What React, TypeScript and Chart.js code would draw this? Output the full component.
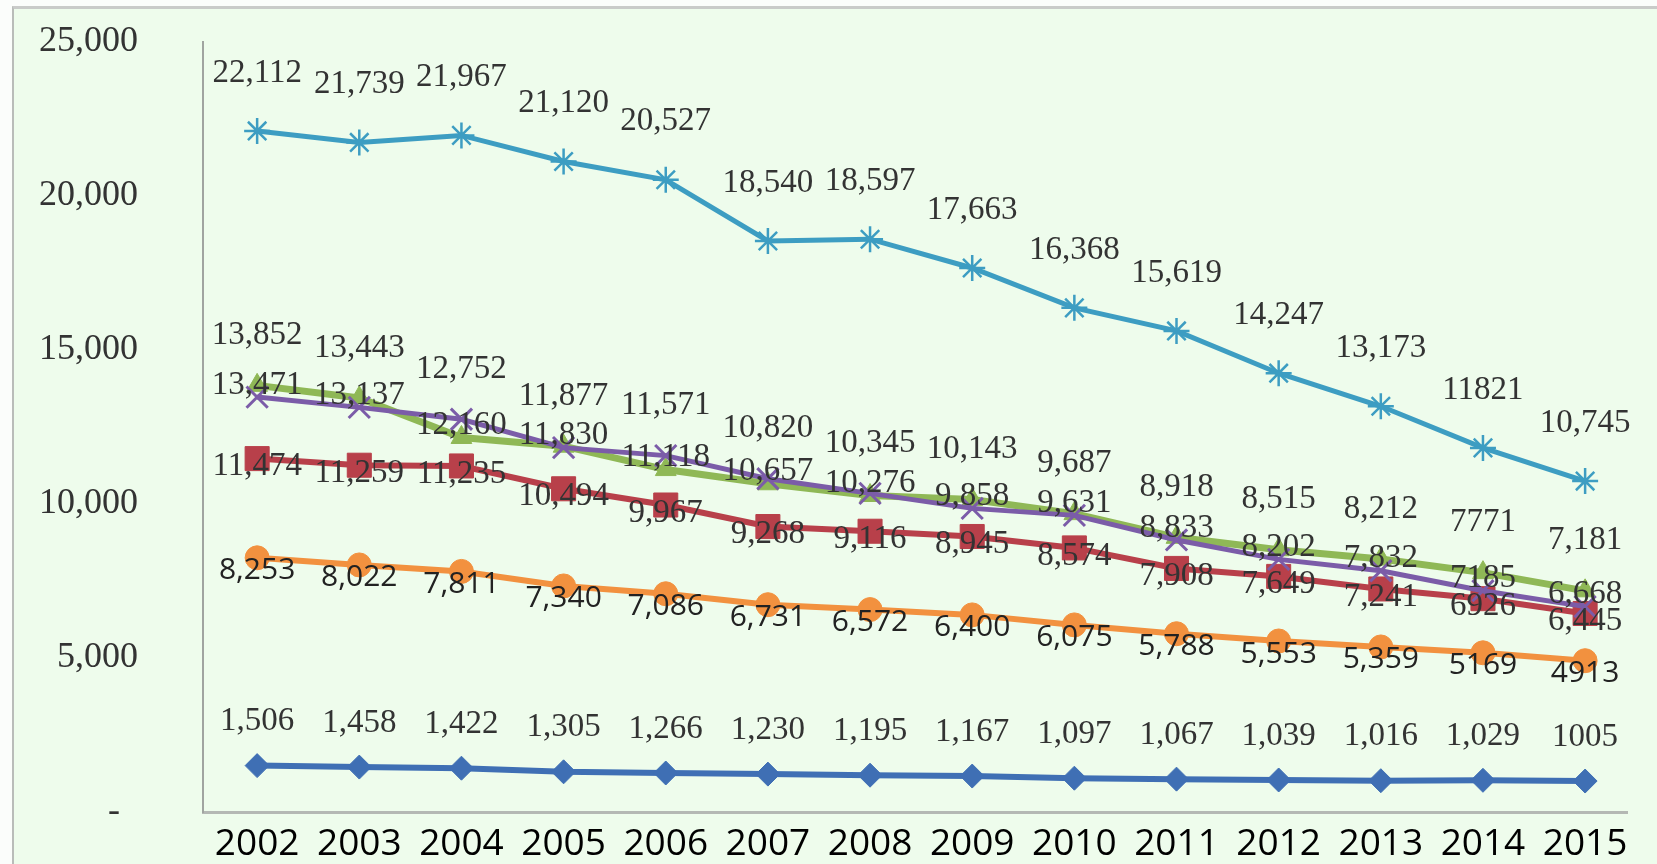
import React, { useEffect, useRef } from 'react';
import { Chart, registerables } from 'chart.js';

Chart.register(...registerables);

const years = [2002, 2003, 2004, 2005, 2006, 2007, 2008, 2009, 2010, 2011, 2012, 2013, 2014, 2015];
const tealValues = [22112, 21739, 21967, 21120, 20527, 18540, 18597, 17663, 16368, 15619, 14247, 13173, 11821, 10745];
const greenValues = [13852, 13443, 12160, 11877, 11118, 10657, 10276, 10143, 9687, 8918, 8515, 8212, 7771, 7181];
const purpleValues = [13471, 13137, 12752, 11830, 11571, 10820, 10345, 9858, 9631, 8833, 8202, 7832, 7185, 6668];
const redValues = [11474, 11259, 11235, 10494, 9967, 9268, 9116, 8945, 8574, 7908, 7649, 7241, 6926, 6445];
const orangeValues = [8253, 8022, 7811, 7340, 7086, 6731, 6572, 6400, 6075, 5788, 5553, 5359, 5169, 4913];
const blueValues = [1506, 1458, 1422, 1305, 1266, 1230, 1195, 1167, 1097, 1067, 1039, 1016, 1029, 1005];

// indices whose labels were printed without a thousands separator
const tealPlain = [12];
const greenPlain = [12];
const purplePlain = [12];
const redPlain = [12];
const orangePlain = [12, 13];
const bluePlain = [13];

const yTicks = [0, 5000, 10000, 15000, 20000, 25000];
const yTickLabels = ['-  ', '5,000', '10,000', '15,000', '20,000', '25,000'];

const W = 1657;
const H = 864;

const fmt = (v: number, plain: boolean) => (plain ? String(v) : v.toLocaleString('en-US'));

const SERIF_LABEL = '33px "Liberation Serif", "Times New Roman", serif';
const SANS_LABEL = '30px "Open Sans", "Noto Sans", sans-serif';

const labelPlugin = {
  id: 'pointLabels',
  afterDatasetsDraw(chart: any) {
    const ctx = chart.ctx;
    ctx.save();
    ctx.textAlign = 'center';
    ctx.textBaseline = 'middle';
    chart.data.datasets.forEach((ds: any, di: number) => {
      const meta = chart.getDatasetMeta(di);
      const lc = ds.labelCfg;
      if (!lc) return;
      meta.data.forEach((pt: any, i: number) => {
        const v = lc.values[i];
        let dy = lc.dy;
        if (lc.pair) {
          dy = v >= lc.pair[i] ? lc.dyHigh : lc.dyLow;
        }
        ctx.font = lc.font;
        ctx.fillStyle = lc.color;
        ctx.fillText(fmt(v, lc.plain.includes(i)), pt.x, pt.y + dy);
      });
    });
    ctx.restore();
  },
};

export default function App() {
  const ref = useRef<HTMLCanvasElement | null>(null);

  useEffect(() => {
    if (!ref.current) return;
    const mk = (data: number[]) => data.map((v, i) => ({ x: years[i], y: v }));
    const chart = new Chart(ref.current, {
      type: 'line',
      data: {
        datasets: [
          {
            data: mk(tealValues) as any,
            borderColor: '#3d9dc2',
            backgroundColor: '#3d9dc2',
            borderWidth: 5,
            pointStyle: 'star',
            pointRadius: 13,
            pointBorderWidth: 2.5,
            pointBorderColor: '#3d9dc2',
            order: 2,
            labelCfg: { font: SERIF_LABEL, color: '#333', dy: -58, plain: tealPlain, values: tealValues },
          } as any,
          {
            data: mk(greenValues) as any,
            borderColor: '#8fb856',
            backgroundColor: '#8fb856',
            borderWidth: 7,
            pointStyle: 'triangle',
            pointRadius: 12,
            pointBorderWidth: 1,
            order: 3,
            labelCfg: { font: SERIF_LABEL, color: '#333', pair: purpleValues, dyHigh: -50, dyLow: -12, plain: greenPlain, values: greenValues },
          } as any,
          {
            data: mk(purpleValues) as any,
            borderColor: '#7b5ca8',
            backgroundColor: '#7b5ca8',
            borderWidth: 5,
            pointStyle: 'crossRot',
            pointRadius: 15,
            pointBorderWidth: 3,
            order: 1,
            labelCfg: { font: SERIF_LABEL, color: '#333', pair: greenValues, dyHigh: -50, dyLow: -12, plain: purplePlain, values: purpleValues },
          } as any,
          {
            data: mk(redValues) as any,
            borderColor: '#b8404a',
            backgroundColor: '#b8404a',
            borderWidth: 6,
            pointStyle: 'rect',
            pointRadius: 17,
            pointBorderWidth: 1,
            order: 4,
            labelCfg: { font: SERIF_LABEL, color: '#333', dy: 8, plain: redPlain, values: redValues },
          } as any,
          {
            data: mk(orangeValues) as any,
            borderColor: '#f2913f',
            backgroundColor: '#f2913f',
            borderWidth: 6,
            pointStyle: 'circle',
            pointRadius: 12,
            pointBorderWidth: 1,
            order: 5,
            labelCfg: { font: SANS_LABEL, color: '#222', dy: 13, plain: orangePlain, values: orangeValues },
          } as any,
          {
            data: mk(blueValues) as any,
            borderColor: '#3f6fb4',
            backgroundColor: '#3f6fb4',
            borderWidth: 6,
            pointStyle: 'rectRot',
            pointRadius: 12,
            pointBorderWidth: 1,
            order: 6,
            labelCfg: { font: SERIF_LABEL, color: '#333', dy: -44, plain: bluePlain, values: blueValues },
          } as any,
        ],
      },
      options: {
        responsive: false,
        maintainAspectRatio: false,
        animation: false,
        devicePixelRatio: 1,
        layout: { padding: { top: 42, right: 30, bottom: 0, left: 0 } },
        elements: { line: { tension: 0 } },
        plugins: {
          legend: { display: false },
          tooltip: { enabled: false },
          title: { display: false },
        },
        scales: {
          x: {
            type: 'linear',
            min: 2001.47,
            max: 2015.41,
            afterBuildTicks: (scale: any) => {
              scale.ticks = years.map((v) => ({ value: v }));
            },
            afterFit: (scale: any) => {
              scale.height = 52;
            },
            grid: { color: 'transparent', drawTicks: false },
            border: { display: true, color: '#b4b8b4', width: 3 },
            ticks: {
              autoSkip: false,
              maxRotation: 0,
              padding: 10,
              color: '#000',
              font: { family: '"Open Sans", "Noto Sans", sans-serif', size: 37 },
              callback: (v: any) => String(v),
            },
          },
          y: {
            type: 'linear',
            min: 0,
            max: 25000,
            afterBuildTicks: (scale: any) => {
              scale.ticks = yTicks.map((v) => ({ value: v }));
            },
            afterFit: (scale: any) => {
              scale.width = 203;
              scale.paddingTop = 0;
              scale.paddingBottom = 0;
            },
            grid: { color: 'transparent', drawTicks: false },
            border: { display: true, color: '#a0a4a0', width: 2 },
            ticks: {
              padding: 65,
              color: '#333',
              font: { family: '"Liberation Serif", "Times New Roman", serif', size: 36 },
              callback: (v: any) => {
                const idx = yTicks.indexOf(Number(v));
                return idx >= 0 ? yTickLabels[idx] : '';
              },
            },
          },
        },
      } as any,
      plugins: [labelPlugin],
    });
    return () => chart.destroy();
  }, []);

  return (
    <div style={{ position: 'fixed', left: 0, top: 0, width: W, height: H, background: '#fbfdfb', overflow: 'hidden' }}>
      <div
        style={{
          position: 'absolute',
          left: 12,
          top: 6,
          width: W - 12,
          height: H - 6,
          background: '#eefcec',
          borderTop: '3px solid #c9cbc9',
          borderLeft: '2px solid #b9bcb9',
          boxSizing: 'border-box',
        }}
      />
      <canvas ref={ref} width={W} height={H} style={{ position: 'absolute', left: 0, top: 0, width: W, height: H }} />
    </div>
  );
}
